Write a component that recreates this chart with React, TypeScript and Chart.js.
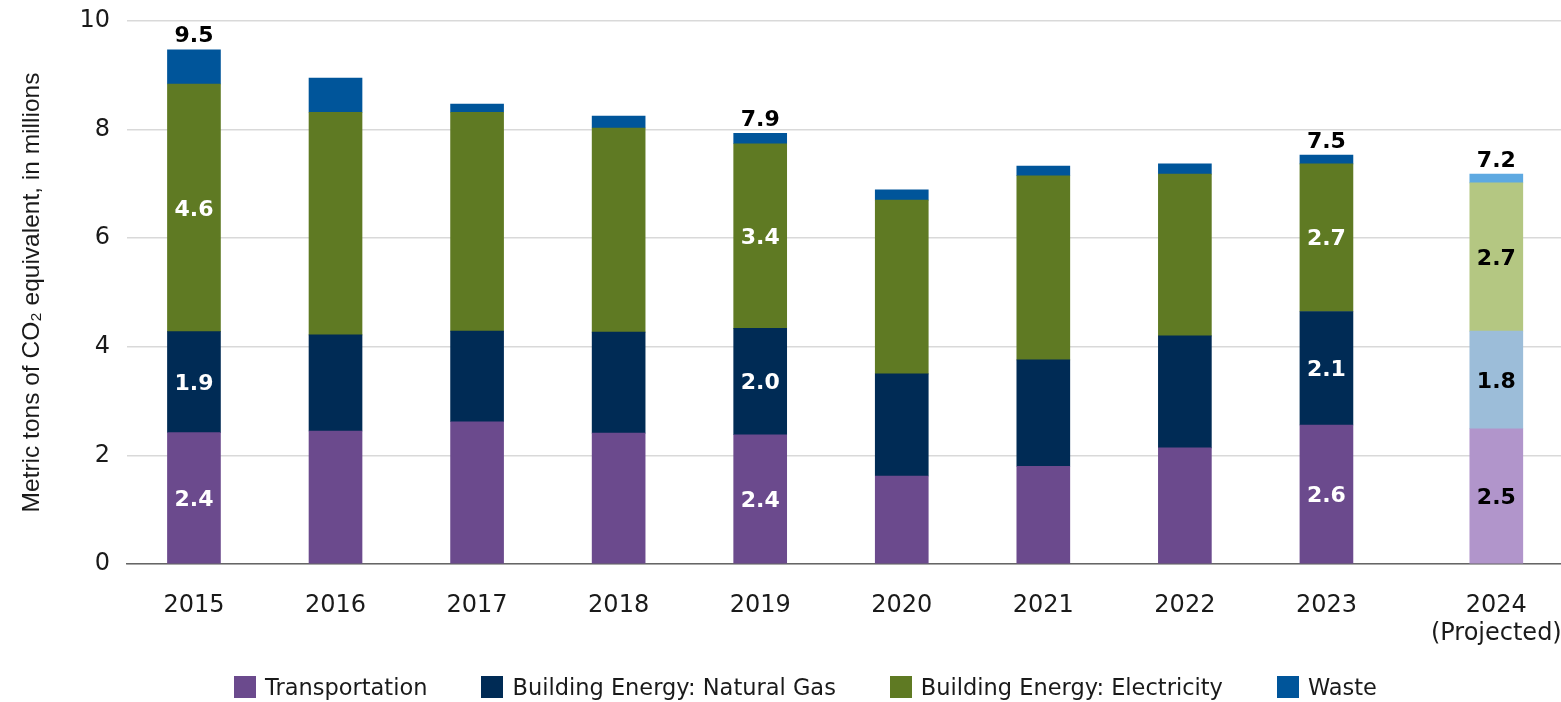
import React, { useEffect, useRef } from "react";
import { Chart, registerables } from "chart.js";

Chart.register(...registerables);

const YEARS = ["2015", "2016", "2017", "2018", "2019", "2020", "2021", "2022", "2023", "2024"];
const PROJECTED_YEARS = ["2024"];
const LABELED_YEARS = ["2015", "2019", "2023", "2024"];

const SERIES_NAMES = [
  "Transportation",
  "Building Energy: Natural Gas",
  "Building Energy: Electricity",
  "Waste",
];

const TRANSPORTATION = [2.42, 2.45, 2.62, 2.41, 2.38, 1.62, 1.8, 2.14, 2.56, 2.49];
const NATURAL_GAS = [1.86, 1.77, 1.67, 1.86, 1.96, 1.88, 1.96, 2.06, 2.09, 1.8];
const ELECTRICITY = [4.56, 4.1, 4.03, 3.76, 3.4, 3.2, 3.39, 2.98, 2.72, 2.73];
const WASTE = [0.63, 0.63, 0.15, 0.22, 0.19, 0.19, 0.18, 0.19, 0.16, 0.16];

const Y_TICK_MIN = 0;
const Y_TICK_MAX = 10;
const Y_TICK_STEP = 2;

const SERIES = [TRANSPORTATION, NATURAL_GAS, ELECTRICITY, WASTE];
const COLORS = ["#6B4A8D", "#002B55", "#5F7A23", "#00559A"];
const LIGHT_COLORS = ["#B195CB", "#9CBDD9", "#B4C782", "#5EA9E1"];

// layout: projected bar is set slightly apart from the measured years
const PROJECTED_GAP = 0.2;
const xPositions = YEARS.map((y, i) => i + (PROJECTED_YEARS.includes(y) ? PROJECTED_GAP : 0));
const xLabels = YEARS.map((y) => (PROJECTED_YEARS.includes(y) ? [y, "(Projected)"] : y));

const segmentLabelPlugin = {
  id: "segmentLabels",
  afterDatasetsDraw(chart: any) {
    const ctx = chart.ctx;
    ctx.save();
    ctx.font = 'bold 22px "DejaVu Sans"';
    ctx.textAlign = "center";
    ctx.textBaseline = "middle";
    LABELED_YEARS.forEach((year) => {
      const j = YEARS.indexOf(year);
      const projected = PROJECTED_YEARS.includes(year);
      [0, 1, 2].forEach((di) => {
        const el = chart.getDatasetMeta(di).data[j];
        if (!el) return;
        ctx.fillStyle = projected ? "#000" : "#fff";
        ctx.fillText(SERIES[di][j].toFixed(1), el.x, (el.y + el.base) / 2 + 2);
      });
      const topEl = chart.getDatasetMeta(SERIES.length - 1).data[j];
      const total = SERIES.reduce((s, arr) => s + arr[j], 0);
      ctx.fillStyle = "#000";
      ctx.fillText(total.toFixed(1), topEl.x, topEl.y - 13);
    });
    ctx.restore();
  },
};

export default function App() {
  const canvasRef = useRef<HTMLCanvasElement | null>(null);

  useEffect(() => {
    document.body.style.margin = "0";
    const canvas = canvasRef.current;
    if (!canvas) return;
    const chart = new Chart(canvas, {
      type: "bar",
      data: {
        datasets: SERIES.map((vals, di) => ({
          label: SERIES_NAMES[di],
          data: vals.map((v, i) => ({ x: xPositions[i], y: v })),
          backgroundColor: (c: any) =>
            c.dataIndex !== undefined && PROJECTED_YEARS.includes(YEARS[c.dataIndex])
              ? LIGHT_COLORS[di]
              : COLORS[di],
          borderWidth: 0,
          barThickness: 53,
        })),
      },
      options: {
        responsive: false,
        animation: false,
        maintainAspectRatio: false,
        layout: { padding: { top: 21, right: 0, bottom: 48, left: 0 } },
        plugins: {
          legend: { display: false },
          tooltip: { enabled: false },
        },
        scales: {
          x: {
            type: "linear",
            stacked: true,
            min: -0.473,
            max: 9.657,
            offset: false,
            grid: { display: false, drawTicks: false },
            border: { display: true, color: "#666666", width: 1.5 },
            afterBuildTicks: (scale: any) => {
              scale.ticks = xPositions.map((v) => ({ value: v }));
            },
            afterFit: (scale: any) => {
              scale.height = 90;
              scale.paddingLeft = 0;
              scale.paddingRight = 0;
            },
            ticks: {
              autoSkip: false,
              maxRotation: 0,
              minRotation: 0,
              padding: 27,
              color: "#1a1a1a",
              font: { family: '"DejaVu Sans"', size: 24 },
              callback: (_v: any, index: number) => xLabels[index],
            },
          },
          y: {
            stacked: true,
            min: Y_TICK_MIN,
            max: Y_TICK_MAX,
            grid: { color: "#d9d9d9", lineWidth: 1.5, drawTicks: false },
            border: { display: false },
            afterFit: (scale: any) => {
              scale.width = 127;
              scale.paddingTop = 0;
              scale.paddingBottom = 0;
            },
            ticks: {
              stepSize: Y_TICK_STEP,
              padding: 17,
              color: "#1a1a1a",
              font: { family: '"DejaVu Sans"', size: 24 },
            },
            title: {
              display: true,
              text: "Metric tons of CO\u2082 equivalent, in millions",
              color: "#1a1a1a",
              font: { family: '"Liberation Sans"', size: 24.5 },
              padding: { top: 18, bottom: 0 },
            },
          },
        },
      },
      plugins: [segmentLabelPlugin],
    } as any);
    return () => chart.destroy();
  }, []);

  return (
    <div style={{ position: "fixed", left: 0, top: 0, width: 1561, height: 702, background: "#fff" }}>
      <canvas ref={canvasRef} width={1561} height={702} style={{ display: "block" }} />
      <div
        style={{
          position: "absolute",
          top: 676,
          left: 234,
          display: "flex",
          alignItems: "center",
          fontFamily: '"DejaVu Sans"',
          fontSize: 22.5,
          lineHeight: "22px",
          color: "#1a1a1a",
          whiteSpace: "nowrap",
        }}
      >
        {SERIES_NAMES.map((name, i) => (
          <div key={name} style={{ display: "flex", alignItems: "center", marginRight: 54 }}>
            <span style={{ display: "inline-block", width: 22, height: 22, background: COLORS[i], marginRight: 9 }} />
            <span>{name}</span>
          </div>
        ))}
      </div>
    </div>
  );
}
